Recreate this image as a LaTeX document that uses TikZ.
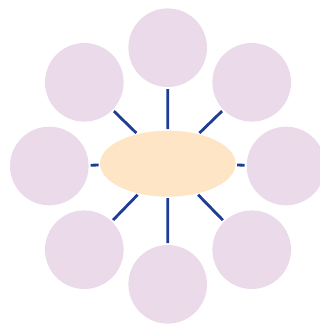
\documentclass[tikz,border=0pt]{standalone}
\usetikzlibrary{shapes.geometric}
\definecolor{petal}{HTML}{EBDAEA}
\definecolor{core}{HTML}{FDE5C5}
\definecolor{spoke}{HTML}{1F3C94}
\tikzset{
  petalnode/.style={circle, fill=petal, minimum size=78.6pt, inner sep=0pt, outer sep=2pt},
  corenode/.style={ellipse, fill=core, minimum width=135.6pt, minimum height=66pt, inner sep=0pt, outer sep=1.5pt},
  spokeline/.style={draw=spoke, line width=2.8pt}
}
\begin{document}
\begin{tikzpicture}[x=1pt,y=-1pt]
\useasboundingbox (0,0) rectangle (320,327);
\clip (0,0) rectangle (320,327);
\node[corenode] (c) at (167.8,163.7) {};
\node[petalnode] (n) at (167.7,47.7) {};
\node[petalnode] (ne) at (251.7,82.3) {};
\node[petalnode] (e) at (286,166) {};
\node[petalnode] (se) at (251.7,249.7) {};
\node[petalnode] (s) at (167.7,284.3) {};
\node[petalnode] (sw) at (84.3,249.7) {};
\node[petalnode] (w) at (49.3,166) {};
\node[petalnode] (nw) at (84.3,82.3) {};
\foreach \p in {n,ne,e,se,s,sw,w,nw}
  \draw[spokeline] (c) -- (\p);
\end{tikzpicture}
\end{document}
